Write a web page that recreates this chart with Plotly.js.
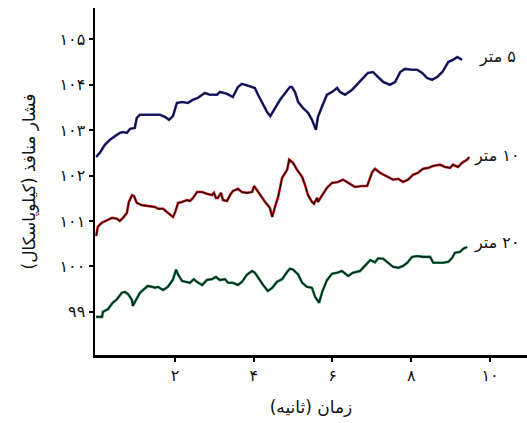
<!DOCTYPE html>
<html><head><meta charset="utf-8">
<script src="https://cdn.plot.ly/plotly-3.0.1.min.js"></script>
<style>html,body{margin:0;padding:0;background:#fff}#chart{width:527px;height:423px}</style>
</head><body><div id="chart"></div>
<script>
// time (s) and pore pressure (kPa)
const t5 = [0,0.09,0.22,0.35,0.48,0.60,0.68,0.78,0.86,0.98,1.03,1.11,1.29,1.62,1.75,1.85,1.95,2.05,2.18,2.33,2.46,2.58,2.76,2.89,3.07,3.14,3.32,3.47,3.60,3.70,3.86,4.03,4.11,4.21,4.34,4.42,4.54,4.67,4.80,4.92,4.97,5.05,5.13,5.25,5.38,5.48,5.58,5.63,5.73,5.86,5.99,6.12,6.19,6.32,6.50,6.62,6.78,6.90,7.03,7.16,7.29,7.46,7.59,7.72,7.84,8.02,8.15,8.28,8.40,8.53,8.66,8.79,8.86,8.94,9.06,9.17,9.29];
const p5 = [102.41,102.50,102.68,102.79,102.87,102.94,102.96,102.94,103.03,103.05,103.27,103.34,103.34,103.34,103.29,103.23,103.31,103.60,103.62,103.60,103.67,103.71,103.82,103.78,103.78,103.84,103.80,103.73,103.95,104.02,103.98,103.93,103.78,103.60,103.40,103.31,103.49,103.67,103.82,103.95,103.95,103.84,103.62,103.49,103.38,103.23,103.01,103.29,103.51,103.78,103.84,103.93,103.84,103.78,103.89,104.00,104.17,104.26,104.28,104.17,104.06,104.00,104.06,104.28,104.35,104.33,104.33,104.26,104.15,104.11,104.17,104.28,104.39,104.50,104.55,104.61,104.55];

const t10 = [0,0.04,0.14,0.27,0.40,0.53,0.60,0.68,0.78,0.83,0.91,0.96,1.03,1.16,1.31,1.49,1.57,1.70,1.82,1.95,2.00,2.08,2.18,2.30,2.38,2.46,2.56,2.69,2.81,2.94,2.99,3.04,3.09,3.17,3.22,3.32,3.40,3.47,3.60,3.70,3.83,3.96,4.01,4.08,4.16,4.29,4.41,4.47,4.54,4.62,4.72,4.85,4.90,5.00,5.10,5.23,5.30,5.38,5.48,5.53,5.61,5.63,5.74,5.86,5.99,6.14,6.27,6.40,6.57,6.75,6.88,7.01,7.08,7.21,7.39,7.54,7.67,7.79,7.92,8.05,8.17,8.30,8.43,8.55,8.73,8.86,8.99,9.06,9.19,9.29,9.42,9.47];
const p10 = [100.67,100.87,100.96,101.02,101.07,101.05,101.00,101.07,101.18,101.42,101.57,101.55,101.40,101.35,101.33,101.31,101.27,101.27,101.18,101.09,101.18,101.40,101.42,101.46,101.44,101.51,101.64,101.64,101.60,101.57,101.62,101.51,101.51,101.62,101.46,101.44,101.57,101.66,101.71,101.64,101.62,101.64,101.77,101.68,101.57,101.42,101.29,101.09,101.31,101.53,101.95,102.13,102.35,102.28,102.13,101.97,101.80,101.57,101.42,101.38,101.51,101.42,101.57,101.73,101.84,101.86,101.91,101.84,101.75,101.77,101.77,102.08,102.15,102.06,101.97,101.91,101.93,101.86,101.91,102.02,102.06,102.15,102.17,102.21,102.24,102.19,102.17,102.24,102.19,102.28,102.35,102.41];

const t20 = [0,0.15,0.17,0.30,0.42,0.53,0.65,0.73,0.81,0.91,0.93,1.03,1.11,1.19,1.31,1.42,1.49,1.57,1.70,1.82,1.95,2.03,2.08,2.18,2.30,2.38,2.48,2.56,2.69,2.81,2.94,3.04,3.14,3.27,3.35,3.47,3.60,3.70,3.83,3.96,4.03,4.11,4.24,4.36,4.47,4.59,4.72,4.85,4.92,5.00,5.13,5.23,5.35,5.48,5.56,5.66,5.74,5.86,5.99,6.12,6.24,6.40,6.52,6.70,6.83,6.96,7.08,7.16,7.29,7.41,7.54,7.67,7.79,7.90,8.02,8.15,8.30,8.48,8.56,8.68,8.81,8.94,9.04,9.11,9.24,9.32,9.42];
const p20 = [98.89,98.89,99.00,99.06,99.20,99.28,99.42,99.44,99.39,99.26,99.13,99.31,99.42,99.48,99.57,99.55,99.53,99.55,99.48,99.55,99.71,99.93,99.82,99.68,99.66,99.64,99.72,99.66,99.59,99.70,99.72,99.77,99.70,99.72,99.64,99.64,99.59,99.66,99.82,99.90,99.86,99.75,99.59,99.46,99.53,99.66,99.72,99.88,99.95,99.93,99.82,99.64,99.55,99.53,99.33,99.20,99.44,99.70,99.84,99.86,99.90,99.79,99.86,99.90,100.03,100.14,100.09,100.18,100.17,100.08,99.99,99.97,100.01,100.08,100.21,100.23,100.21,100.21,100.08,100.08,100.08,100.10,100.19,100.30,100.32,100.39,100.43];

const seriesLabels = ['\u200F۵ متر', '\u200F۱۰ متر', '\u200F۲۰ متر'];
const labelY = [104.61, 102.43, 100.52];
const yTickVals = [99,100,101,102,103,104,105];
const yTickText = ['۹۹','۱۰۰','۱۰۱','۱۰۲','۱۰۳','۱۰۴','۱۰۵'];
const xTickVals = [2,4,6,8,10];
const xTickText = ['۲','۴','۶','۸','۱۰'];
const yTitle = '\u200Fفشار منافذ (کیلوپاسکال)\u200F';
const xTitle = '\u200Fزمان (ثانیه)\u200F';

const FONT = 'DejaVu Sans, sans-serif';
function pair(x, y, outer, inner) {
  return [
    {x:x, y:y, type:'scatter', mode:'lines', line:{color:outer, width:2.6}, hoverinfo:'skip'},
    {x:x, y:y, type:'scatter', mode:'lines', line:{color:inner, width:1.1}}
  ];
}
const data = [].concat(
  pair(t5, p5, '#2a2a8c', '#0b0b2a'),
  pair(t10, p10, '#d01c1c', '#1a0000'),
  pair(t20, p20, '#0f7a4c', '#001a0e')
);
const annotations = seriesLabels.map((s,i)=>({
  x: 10.18, y: labelY[i], xref:'x', yref:'y', text: s, showarrow:false,
  font:{family:FONT, size:16, color:'#111'}
}));
const layout = {
  width:527, height:423,
  margin:{l:95, r:0, t:8, b:68},
  paper_bgcolor:'#fff', plot_bgcolor:'#fff',
  showlegend:false,
  font:{family:FONT, size:16, color:'#111'},
  xaxis:{range:[-0.03,10.94], showgrid:false, zeroline:false, showline:true, linecolor:'#000', linewidth:2.5,
    ticks:'outside', ticklen:4, tickwidth:2, tickcolor:'#000', tickvals:xTickVals, ticktext:xTickText,
    tickfont:{family:FONT, size:16, color:'#111'},
    title:{text:xTitle, font:{family:FONT, size:17, color:'#111'}, standoff:18}},
  yaxis:{range:[98.05,105.69], showgrid:false, zeroline:false, showline:true, linecolor:'#000', linewidth:2.5,
    ticks:'outside', ticklen:4, tickwidth:2, tickcolor:'#000', tickvals:yTickVals, ticktext:yTickText,
    tickfont:{family:FONT, size:16, color:'#111'},
    title:{text:yTitle, font:{family:FONT, size:17, color:'#111'}, standoff:20}},
  annotations: annotations
};
Plotly.newPlot('chart', data, layout, {staticPlot:true});
</script>
</body></html>
